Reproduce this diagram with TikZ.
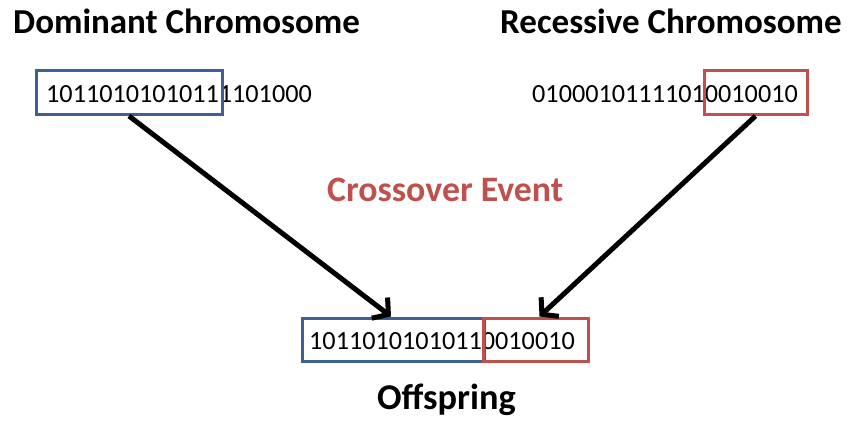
\documentclass[tikz,border=0pt]{standalone}
\usepackage{fontspec}
\setmainfont{Carlito}
\usetikzlibrary{arrows.meta}
\definecolor{domblue}{HTML}{3C6192}
\definecolor{recred}{HTML}{C0504D}
\tikzset{
  title/.style={font=\fontsize{35}{37}\selectfont\bfseries, inner sep=0pt, anchor=base west},
  bits/.style={font=\fontsize{26.2}{28}\selectfont, inner sep=0pt, anchor=base west},
  segbox/.style={draw, line width=3pt, inner sep=0pt},
  geneflow/.style={line width=5pt, -{Straight Barb[length=11pt, width=26pt, line width=5pt]}},
}
\begin{document}
\begin{tikzpicture}[x=1pt, y=-1pt]
  \useasboundingbox (0,0) rectangle (852,421);

  % headings
  \node[title] (domtitle) at (13,33) {Dominant Chromosome};
  \node[title] (rectitle) at (500,33) {Recessive Chromosome};
  \node[title, text=recred, font=\fontsize{35.8}{38}\selectfont\bfseries] (event) at (327,201) {Crossover Event};
  \node[title, font=\fontsize{36.3}{38}\selectfont\bfseries] (offtitle) at (377,409) {Offspring};

  % parent chromosomes
  \node[bits] (domseq) at (46,102) {10110101010111101000};
  \node[bits] (recseq) at (532,102) {01000101111010010010};
  \node[segbox, domblue, minimum width=186pt, minimum height=44pt] (dombox) at (129,92.5) {};
  \node[segbox, recred, minimum width=103pt, minimum height=44pt] (recbox) at (755.5,92.5) {};

  % offspring chromosome
  \node[bits] (offseq) at (309,349) {10110101010110010010};
  \node[segbox, domblue, minimum width=182pt, minimum height=43pt] (offblue) at (393,339.5) {};
  \node[segbox, recred, minimum width=105pt, minimum height=43pt] (offred) at (535.5,339.5) {};

  % inheritance arrows
  \draw[geneflow] (dombox.south) -- ([xshift=-2pt]offblue.north);
  \draw[geneflow] (recbox.south) -- ([xshift=4pt]offred.north);
\end{tikzpicture}
\end{document}
